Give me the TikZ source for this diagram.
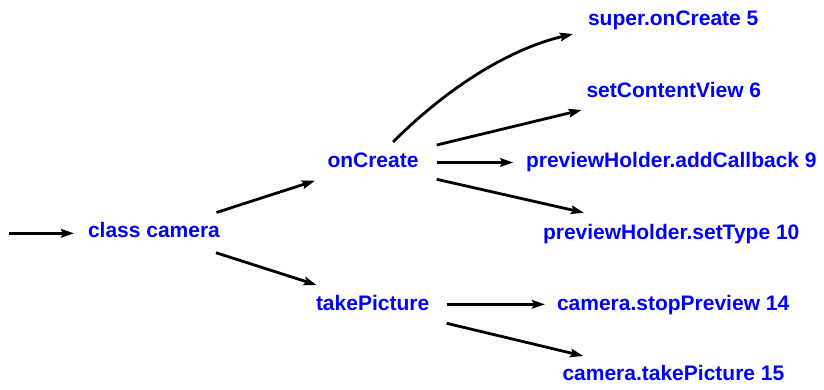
\documentclass[tikz,border=0pt]{standalone}
\usepackage{fontspec}
\setmainfont{Liberation Sans}
\usetikzlibrary{arrows.meta}
\definecolor{callblue}{RGB}{0,0,255}
\begin{document}
\begin{tikzpicture}[x=1pt,y=-1pt,
  call/.style={anchor=base west,inner sep=0pt,outer sep=0pt,text=callblue,
    font=\fontsize{21}{25}\selectfont\bfseries},
  arr/.style={draw=black,line width=2.8pt,
    -{Stealth[length=13pt,width=8.5pt,inset=2pt]}}]
  \useasboundingbox (0,0) rectangle (824,389);

  % call tree nodes
  \node[call] (cc)  at (88,237)      {class camera};
  \node[call] (oc)  at (327.5,167.3) {onCreate};
  \node[call] (tp)  at (316,310.7)   {takePicture};
  \node[call] (s5)  at (588,25)      {super.onCreate 5};
  \node[call] (s6)  at (586.5,97)    {setContentView 6};
  \node[call] (s9)  at (526,167.3)   {previewHolder.addCallback 9};
  \node[call] (s10) at (543,239.3)   {previewHolder.setType 10};
  \node[call] (s14) at (557,310.7)   {camera.stopPreview 14};
  \node[call] (s15) at (562.5,380.7) {camera.takePicture 15};
  \coordinate (entry) at (9,233.3);

  % entry arrow
  \draw[arr] (entry) -- ([shift={(-14,-3.7)}]cc.base west);

  % class camera -> methods
  \draw[arr] ([shift={(-3.5,-24.5)}]cc.base east) -- ([shift={(-12.5,13.4)}]oc.base west);
  \draw[arr] ([shift={(-4,15.7)}]cc.base east) -- ([shift={(0.7,-25.7)}]tp.base west);

  % onCreate -> calls
  \draw[arr] ([shift={(-25.5,-25.3)}]oc.base east)
     .. controls (443,92) and (505,50) .. ([shift={(-15,9)}]s5.base west);
  \draw[arr] ([shift={(18.2,-22.3)}]oc.base east) -- ([shift={(-4.8,13)}]s6.base west);
  \draw[arr] ([shift={(18.2,-4.8)}]oc.base east) -- ([shift={(-12.7,-4.8)}]s9.base west);
  \draw[arr] ([shift={(18.2,12)}]oc.base east) -- ([shift={(41,-26.6)}]s10.base west);

  % takePicture -> calls
  \draw[arr] ([shift={(17.5,-6.4)}]tp.base east) -- ([shift={(-12,-6.4)}]s14.base west);
  \draw[arr] ([shift={(17.5,12.6)}]tp.base east) -- ([shift={(20.8,-24.7)}]s15.base west);
\end{tikzpicture}
\end{document}
